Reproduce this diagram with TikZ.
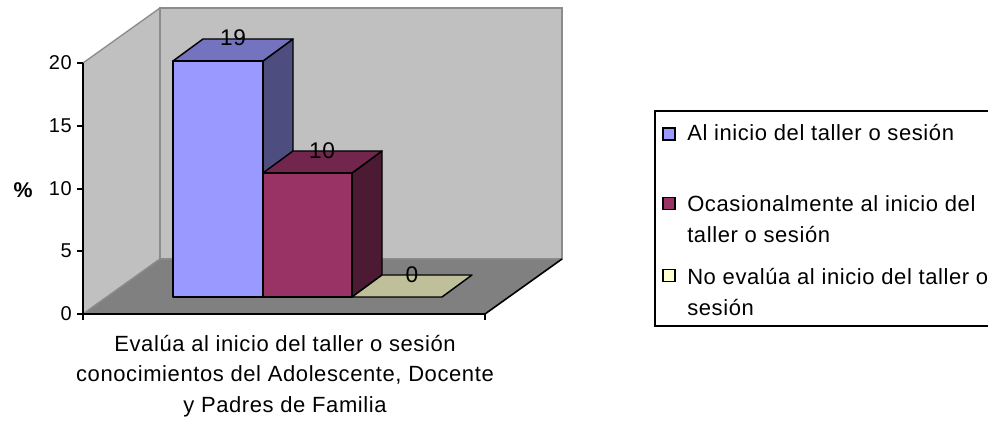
\documentclass[tikz,border=0pt]{standalone}
\usepackage{fontspec}
\setmainfont{Liberation Sans}
\newfontfamily\chartfont[LetterSpace=2.7]{Liberation Sans}
\usetikzlibrary{calc,positioning}

\definecolor{wallgray}{HTML}{C0C0C0}
\definecolor{floorgray}{HTML}{808080}
\definecolor{edgegray}{HTML}{8C8C8C}
\definecolor{blueface}{HTML}{9999FF}
\definecolor{bluetop}{HTML}{7373BF}
\definecolor{blueside}{HTML}{4D4D80}
\definecolor{plumface}{HTML}{993366}
\definecolor{plumtop}{HTML}{73264D}
\definecolor{plumside}{HTML}{4D1A33}
\definecolor{creamface}{HTML}{FFFFCC}
\definecolor{creamtop}{HTML}{BFBF99}

\begin{document}
\begin{tikzpicture}[x=0.75pt,y=-0.75pt]

\tikzstyle{wall} = [fill=wallgray,draw=edgegray,line width=1pt]
\tikzstyle{barface} = [draw=black,line width=1.1pt,line join=round]
\tikzstyle{axisline} = [draw=black,line width=1.2pt]
\tikzstyle{ticklabel} = [anchor=east,inner sep=0,font=\chartfont\fontsize{15pt}{18pt}\selectfont]
\tikzstyle{vallabel} = [inner sep=0,font=\chartfont\fontsize{17pt}{20pt}\selectfont]
\tikzstyle{legendtext} = [anchor=base west,inner sep=0,align=left,font=\chartfont\fontsize{16.5pt}{23.25pt}\selectfont]
\tikzstyle{legendkey} = [rectangle,draw=black,line width=1pt,minimum size=9pt,inner sep=0]

\useasboundingbox (0,0) rectangle (988,423);

% walls and floor
\draw[wall] (83,63) -- (160,8) -- (160,259) -- (83,314) -- cycle;
\draw[wall] (160,8) rectangle (562,259);
\fill[floorgray] (83,314) -- (160,259) -- (562,259) -- (485,314) -- cycle;
\draw[edgegray,line width=1pt] (83,314) -- (160,259) -- (562,259);
\draw[axisline] (83,314) -- (485,314) -- (562,259);

% bars
\draw[barface,fill=blueside] (263,61) -- (293,39) -- (293,275) -- (263,297) -- cycle;
\draw[barface,fill=bluetop] (173,61) -- (203,39) -- (293,39) -- (263,61) -- cycle;
\draw[barface,fill=blueface] (173,297) rectangle (263,61);

\draw[barface,fill=plumside] (352,173) -- (382,151) -- (382,275) -- (352,297) -- cycle;
\draw[barface,fill=plumtop] (263,173) -- (293,151) -- (382,151) -- (352,173) -- cycle;
\draw[barface,fill=plumface] (263,297) rectangle (352,173);

\draw[barface,fill=creamtop] (352,297) -- (382,275) -- (472,275) -- (442,297) -- cycle;

\node[vallabel] (val19) at (233,38) {19};
\node[vallabel] (val10) at (322,151) {10};
\node[vallabel] (val0) at (412,275) {0};

% axes
\draw[axisline] (83,63) -- (83,320);
\draw[axisline] (485,314) -- (485,320);
\foreach \v/\y in {0/314,5/251,10/189,15/126,20/63} {
  \draw[axisline] (77,\y) -- (83,\y);
  \node[ticklabel] (tick\v) at (72,\y) {\v};
}
\node[inner sep=0,font=\chartfont\bfseries\fontsize{16pt}{18pt}\selectfont] (pct) at (23,190) {\%};

\node[anchor=base,inner sep=0,align=center,font=\chartfont\fontsize{16.5pt}{23.25pt}\selectfont] (cat) at (285,413)
  {Evalúa al inicio del taller o sesión\\conocimientos del Adolescente, Docente\\y Padres de Familia};

% legend
\draw[axisline] (655,111) rectangle (1000,326);
\node[legendkey,fill=blueface] (key1) at (669,134) {};
\node[legendkey,fill=plumface] (key2) at (669,203.5) {};
\node[legendkey,fill=creamface] (key3) at (669,275.5) {};
\node[legendtext] (leg1) at (687,141) {Al inicio del taller o sesión};
\node[legendtext] (leg2) at (687,243) {Ocasionalmente al inicio del\\taller o sesión};
\node[legendtext] (leg3) at (687,316) {No evalúa al inicio del taller o\\sesión};

\end{tikzpicture}
\end{document}
